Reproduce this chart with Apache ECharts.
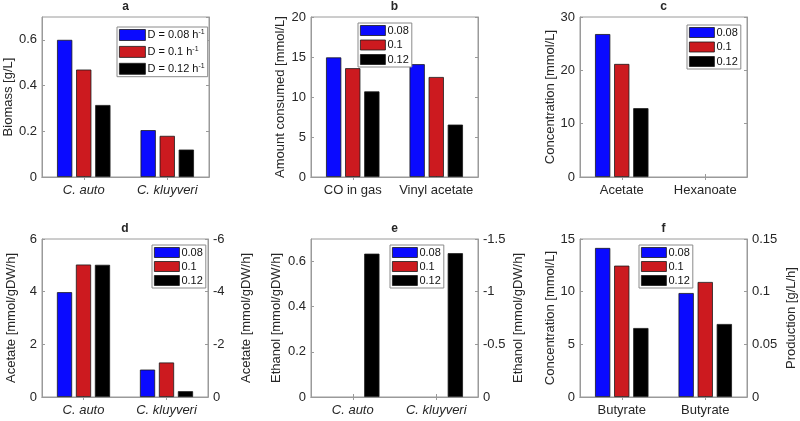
<!DOCTYPE html>
<html>
<head>
<meta charset="utf-8">
<script src="https://cdn.jsdelivr.net/npm/echarts@6/dist/echarts.min.js"></script>
<style>
html,body{margin:0;padding:0;background:#fff;}
#chart{width:800px;height:421px;}
</style>
</head>
<body>
<div id="chart"></div>
<script>
// ---- data ----
const seriesNames = ['0.08', '0.1', '0.12'];

const catsA = ['C. auto', 'C. kluyveri'];
const biomass008 = [0.60, 0.205];
const biomass01 = [0.47, 0.18];
const biomass012 = [0.315, 0.12];

const catsB = ['CO in gas', 'Vinyl acetate'];
const consumed008 = [14.95, 14.1];
const consumed01 = [13.6, 12.5];
const consumed012 = [10.7, 6.55];

const catsC = ['Acetate', 'Hexanoate'];
const conc008 = [26.8, 0];
const conc01 = [21.2, 0];
const conc012 = [12.9, 0];

const catsD = ['C. auto', 'C. kluyveri'];
const acetate008 = [3.98, 1.04];
const acetate01 = [5.03, 1.31];
const acetate012 = [5.02, 0.22];

const catsE = ['C. auto', 'C. kluyveri'];
const ethanol008 = [0, 0];
const ethanol01 = [0, 0];
const ethanol012 = [0.635, 0.637];

const catsF = ['Butyrate', 'Butyrate'];
const butyrate008 = [14.15, 9.87];
const butyrate01 = [12.47, 10.92];
const butyrate012 = [6.55, 6.93];

// ---- styling / layout ----
const FONT = 'Liberation Sans, Arial, Helvetica, sans-serif';
const TXT = '#262626';
const BOX = '#9a9a9a';
const colors = ['#0a0aff', '#cc1a1f', '#000000'];

const panels = [
  {title:'a', cats:catsA, italic:true, data:[biomass008, biomass01, biomass012],
   grid:{left:42, top:17, width:167, height:160},
   y:{min:0, max:0.7, interval:0.2, name:'Biomass [g/L]', gap:27},
   legend:{left:117, top:27, ih:11, gap:5, sup:true}},
  {title:'b', cats:catsB, italic:false, data:[consumed008, consumed01, consumed012],
   grid:{left:311, top:17, width:167, height:160},
   y:{min:0, max:20, interval:5, name:'Amount consumed [mmol/L]', gap:24},
   legend:{left:358, top:23, ih:10, gap:3.5}},
  {title:'c', cats:catsC, italic:false, data:[conc008, conc01, conc012],
   grid:{left:580, top:17, width:167, height:160},
   y:{min:0, max:30, interval:10, name:'Concentration [mmol/L]', gap:23},
   legend:{left:687, top:25, ih:10, gap:3.5}},
  {title:'d', cats:catsD, italic:true, data:[acetate008, acetate01, acetate012],
   grid:{left:42, top:239, width:166, height:158},
   y:{min:0, max:6, interval:2, name:'Acetate [mmol/gDW/h]', gap:24},
   y2:{min:-6, max:0, interval:2, name:'Acetate [mmol/gDW/h]', gap:32, inverse:true},
   legend:{left:152, top:245, ih:10, gap:3}},
  {title:'e', cats:catsE, italic:true, data:[ethanol008, ethanol01, ethanol012],
   grid:{left:311, top:239, width:167, height:158},
   y:{min:0, max:0.7, interval:0.2, name:'Ethanol [mmol/gDW/h]', gap:28},
   y2:{min:-1.5, max:0, interval:0.5, name:'Ethanol [mmol/gDW/h]', gap:34, inverse:true},
   legend:{left:390, top:245, ih:10, gap:3}},
  {title:'f', cats:catsF, italic:false, data:[butyrate008, butyrate01, butyrate012],
   grid:{left:580, top:239, width:167, height:158},
   y:{min:0, max:15, interval:5, name:'Concentration [mmol/L]', gap:23},
   y2:{min:0, max:0.15, interval:0.05, name:'Production [g/L/h]', gap:38},
   legend:{left:639, top:245, ih:10, gap:3}}
];

const option = {
  backgroundColor:'#fff',
  animation:false,
  textStyle:{fontFamily:FONT},
  title:[], grid:[], xAxis:[], yAxis:[], series:[], legend:[]
};

const lineStyle = {color:BOX, width:1};
panels.forEach((p, i) => {
  option.title.push({
    text:p.title, left:p.grid.left + p.grid.width/2, top:p.grid.top - 16, textAlign:'center', padding:0,
    textStyle:{fontFamily:FONT, fontSize:12, fontWeight:'bold', color:TXT}
  });
  option.grid.push(Object.assign({show:true, borderColor:BOX, borderWidth:1, backgroundColor:'#fff', containLabel:false}, p.grid));
  option.xAxis.push({
    type:'category', gridIndex:i, position:'bottom', data:p.cats,
    axisLine:{show:true, lineStyle}, axisTick:{show:true, inside:true, length:3, alignWithLabel:true, lineStyle},
    axisLabel:{fontFamily:FONT, fontSize:13, color:TXT, margin:7, fontStyle:p.italic?'italic':'normal', interval:0},
    splitLine:{show:false}
  });
  option.xAxis.push({
    type:'category', gridIndex:i, position:'top', data:p.cats,
    axisLine:{show:true, lineStyle}, axisTick:{show:true, inside:true, length:3, alignWithLabel:true, lineStyle},
    axisLabel:{show:false}, splitLine:{show:false}
  });
  option.yAxis.push({
    type:'value', gridIndex:i, position:'left', min:p.y.min, max:p.y.max, interval:p.y.interval,
    name:p.y.name, nameLocation:'middle', nameGap:p.y.gap,
    nameTextStyle:{fontFamily:FONT, fontSize:13, color:TXT},
    axisLine:{show:true, lineStyle}, axisTick:{show:true, inside:true, length:3, lineStyle},
    axisLabel:{fontFamily:FONT, fontSize:13, color:TXT, margin:5, showMaxLabel:(p.y.max/p.y.interval)%1===0},
    splitLine:{show:false}
  });
  if (p.y2) {
    option.yAxis.push({
      type:'value', gridIndex:i, position:'right', min:p.y2.min, max:p.y2.max, interval:p.y2.interval,
      inverse:!!p.y2.inverse,
      name:p.y2.name, nameLocation:'middle', nameGap:p.y2.gap, nameRotate:90,
      nameTextStyle:{fontFamily:FONT, fontSize:13, color:TXT},
      axisLine:{show:true, lineStyle}, axisTick:{show:true, inside:true, length:3, lineStyle},
      axisLabel:{fontFamily:FONT, fontSize:13, color:TXT, margin:5},
      splitLine:{show:false}
    });
  } else {
    option.yAxis.push({
      type:'value', gridIndex:i, position:'right', min:p.y.min, max:p.y.max, interval:p.y.interval,
      axisLine:{show:true, lineStyle}, axisTick:{show:true, inside:true, length:3, lineStyle},
      axisLabel:{show:false}, splitLine:{show:false}
    });
  }
  p.data.forEach((vals, k) => {
    option.series.push({
      type:'bar', name:seriesNames[k], xAxisIndex:2*i, yAxisIndex:2*i,
      data:vals.map(v => v === 0 ? {value:v, itemStyle:{borderWidth:0, opacity:0}} : v),
      barCategoryGap:'36%', barGap:'25%',
      itemStyle:{color:colors[k], borderColor:'#1a1a1a', borderWidth:0.8}
    });
  });
  const lg = {
    left:p.legend.left, top:p.legend.top, orient:'vertical',
    data:seriesNames.map((n, k) => ({name:n, itemStyle:{color:colors[k], borderColor:'#1a1a1a', borderWidth:0.8, opacity:1}})),
    icon:'rect', itemWidth:25, itemHeight:p.legend.ih, itemGap:p.legend.gap,
    padding:[2,3,2,2], borderColor:'#8a8a8a', borderWidth:1, borderRadius:0, backgroundColor:'#fff',
    selectedMode:false,
    textStyle:{fontFamily:FONT, fontSize:11, color:'#111', padding:[0,0,0,-3]}
  };
  if (p.legend.sup) {
    lg.formatter = name => 'D = ' + name + ' h{sup|-1}';
    lg.textStyle.rich = {sup:{fontFamily:FONT, fontSize:7, color:'#111', verticalAlign:'top', padding:[0,0,5,0]}};
    lg.itemWidth = 26;
  }
  option.legend.push(lg);
});

const chart = echarts.init(document.getElementById('chart'), null, {renderer:'canvas'});
chart.setOption(option);
</script>
</body>
</html>
